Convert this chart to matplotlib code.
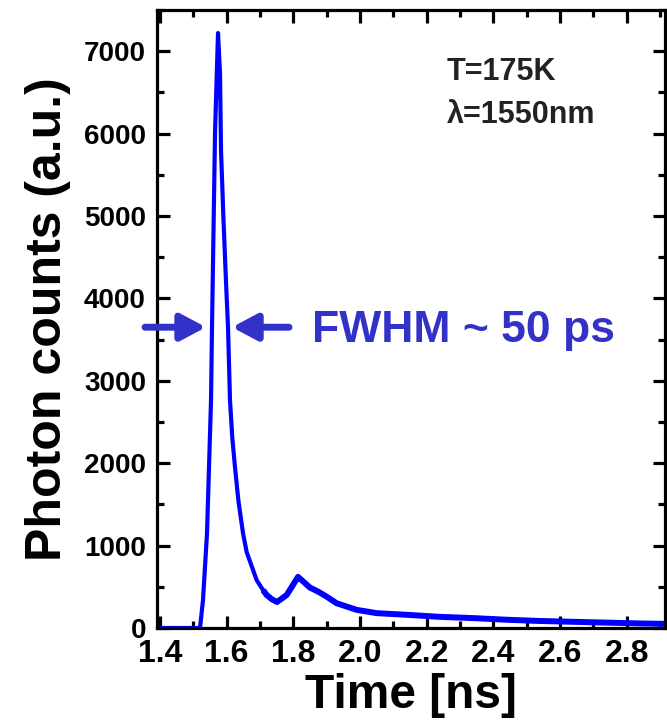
import matplotlib
matplotlib.use("Agg")
import matplotlib.pyplot as plt
from matplotlib.ticker import MultipleLocator

plt.rcParams['font.family'] = ['Liberation Sans', 'DejaVu Sans']

# Time-resolved photon counts
time_ns = [1.40, 1.52, 1.529, 1.541, 1.553, 1.556, 1.565, 1.574, 1.580, 1.583,
           1.59, 1.598, 1.604, 1.610, 1.617, 1.625, 1.635, 1.649, 1.66, 1.676,
           1.69, 1.709, 1.72, 1.735, 1.751, 1.78, 1.814, 1.85, 1.875, 1.90,
           1.93, 1.99, 2.05, 2.14, 2.24, 2.34, 2.44, 2.54, 2.64, 2.74,
           2.84, 2.915]
counts = [0, 0, 340, 1150, 2760, 3650, 6000, 7220, 6730, 5800,
          5000, 4200, 3650, 2760, 2300, 1950, 1550, 1150, 920, 740,
          580, 460, 400, 350, 315, 400, 620, 490, 440, 380,
          300, 220, 180, 160, 135, 120, 100, 85, 75, 65,
          55, 50]

x_ticks = [1.4, 1.6, 1.8, 2.0, 2.2, 2.4, 2.6, 2.8]
y_ticks = [0, 1000, 2000, 3000, 4000, 5000, 6000, 7000]

# FWHM marker positions (data units)
fwhm_y = 3650
left_arrow = (1.355, 1.538)
right_arrow = (1.787, 1.616)

blue = '#0000ff'
ann = '#3232c8'

fig = plt.figure(figsize=(6.67, 7.27), dpi=100)
ax = fig.add_axes([0.2354, 0.1362, 0.7616, 0.8501])

ax.plot(time_ns, counts, color=blue, lw=3.0, solid_joinstyle='round')
# the noisy tail reads as a thicker band
tail = [i for i, t in enumerate(time_ns) if t >= 1.709]
ax.plot([time_ns[i] for i in tail], [counts[i] for i in tail],
        color=blue, lw=4.3, solid_capstyle='butt', solid_joinstyle='round')

ax.set_xlim(1.391, 2.915)
ax.set_ylim(0, 7500)
ax.set_xticks(x_ticks)
ax.set_yticks(y_ticks)
ax.set_xticklabels([f'{v:.1f}' for v in x_ticks])
ax.xaxis.set_minor_locator(MultipleLocator(0.1))
ax.yaxis.set_minor_locator(MultipleLocator(500))

for s in ax.spines.values():
    s.set_linewidth(2.3)
ax.tick_params(which='both', direction='in', top=True, right=True, width=2.3)
ax.tick_params(which='major', length=9)
ax.tick_params(which='minor', length=5)
ax.tick_params(axis='x', labelsize=23, pad=8)
ax.tick_params(axis='y', labelsize=20, pad=8)
for lab in ax.get_xticklabels() + ax.get_yticklabels():
    lab.set_fontweight('bold')

ax.set_xlabel('Time [ns]', fontsize=34.5, fontweight='bold', labelpad=3)
ax.set_ylabel('Photon counts (a.u.)', fontsize=36, fontweight='bold', labelpad=9)

ax.text(0.571, 0.900, 'T=175K', transform=ax.transAxes, fontsize=22,
        fontweight='bold', color='#222222', va='center', ha='left')
ax.text(0.571, 0.830, 'λ=1550nm', transform=ax.transAxes, fontsize=22,
        fontweight='bold', color='#222222', va='center', ha='left')

for tail_x, tip_x in (left_arrow, right_arrow):
    ax.annotate('', xy=(tip_x, fwhm_y), xytext=(tail_x, fwhm_y),
                annotation_clip=False,
                arrowprops=dict(arrowstyle='-|>,head_length=0.75,head_width=0.4',
                                color=ann, lw=5, shrinkA=0, shrinkB=0,
                                mutation_scale=20))

ax.text(1.856, 3612, 'FWHM ~ 50 ps', color=ann, fontsize=32,
        fontweight='bold', va='center', ha='left')

fig.savefig('out.png', dpi=100)
